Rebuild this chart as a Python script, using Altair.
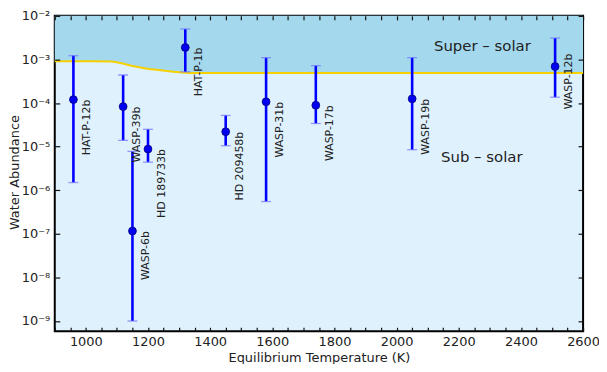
import altair as alt
import pandas as pd

# ---- data ----
names = ["HAT-P-12b", "WASP-39b", "WASP-6b", "HD 189733b", "HAT-P-1b",
         "HD 209458b", "WASP-31b", "WASP-17b", "WASP-19b", "WASP-12b"]
temps = [960, 1120, 1150, 1200, 1320, 1450, 1580, 1740, 2050, 2510]
water = [1.2e-4, 8.3e-5, 1.16e-7, 8.8e-6, 1.88e-3, 2.2e-5, 1.07e-4, 8.9e-5, 1.25e-4, 6.9e-4]
upper = [1.22e-3, 4.4e-4, 7.8e-6, 2.5e-5, 5.0e-3, 5.2e-5, 1.1e-3, 7.2e-4, 1.1e-3, 3.1e-3]
lower = [1.5e-6, 1.4e-5, 1.0e-9, 4.4e-6, 5.2e-4, 1.05e-5, 5.5e-7, 3.4e-5, 8.5e-6, 1.36e-4]

solar_T = [900, 1000, 1080, 1150, 1200, 1260, 1310, 1365, 2600]
solar_W = [9.1e-4, 9.1e-4, 9.0e-4, 7.1e-4, 6.1e-4, 5.45e-4, 5.05e-4, 4.9e-4, 4.9e-4]

x_label_ticks = [1000, 1200, 1400, 1600, 1800, 2000, 2200, 2400, 2600]
x_minor_ticks = [900, 950, 1000, 1050, 1100, 1150, 1200, 1250, 1300, 1350, 1400,
                 1450, 1500, 1550, 1600, 1650, 1700, 1750, 1800, 1850, 1900, 1950,
                 2000, 2050, 2100, 2150, 2200, 2250, 2300, 2350, 2400, 2450, 2500,
                 2550, 2600]
y_ticks = [1e-9, 1e-8, 1e-7, 1e-6, 1e-5, 1e-4, 1e-3, 1e-2]

regions = ["Super \u2013 solar", "Sub \u2013 solar"]
region_T = [2276, 2274]
region_W = [2.0e-3, 5.8e-6]

SUPER = "#a3d8ed"
SUB = "#dff1fd"
GOLD = "#f7d000"
BLUE = "#0000ff"
FONT = "DejaVu Sans"

df = pd.DataFrame({"name": names, "T": temps, "W": water, "hi": upper, "lo": lower})
solar = pd.DataFrame({"T": solar_T, "W": solar_W})
reg = pd.DataFrame({"label": regions, "T": region_T, "W": region_W})

W_PLOT, H_PLOT = 531, 317

xs = alt.Scale(domain=[900, 2600], nice=False, zero=False)
ys = alt.Scale(type="log", domain=[5.82e-10, 1e-2], nice=False)

label_expr = ("'10\u207b' + substring('\u2070\u00b9\u00b2\u00b3\u2074\u2075\u2076\u2077\u2078\u2079', "
              "round(-log(datum.value)/LN10), round(-log(datum.value)/LN10)+1)")

area = alt.Chart(solar).mark_area(color=SUPER, interpolate="monotone").encode(
    x=alt.X("T:Q", scale=xs, axis=alt.Axis(
        orient="bottom", values=x_label_ticks, format="d", ticks=False, domain=False,
        grid=False, labelFontSize=13, labelPadding=4, labelFlush=False,
        title="Equilibrium Temperature (K)", titleFontSize=13,
        titleFontWeight="normal", titlePadding=3)),
    y=alt.Y("W:Q", scale=ys, axis=alt.Axis(
        orient="left", values=y_ticks, labelExpr=label_expr, ticks=False,
        domain=False, grid=False, labelFontSize=13, labelPadding=5,
        title="Water Abundance", titleFontSize=13, titleFontWeight="normal",
        titleAngle=270, titleAlign="center", titleBaseline="middle",
        titleX=-40, titleY=157)),
    y2=alt.datum(1e-2),
)

line = alt.Chart(solar).mark_line(color=GOLD, strokeWidth=2, interpolate="monotone").encode(
    x=alt.X("T:Q", scale=xs, axis=alt.Axis(
        orient="top", offset=-H_PLOT, values=x_minor_ticks, labels=False, domain=False,
        grid=False, tickSize=4, tickWidth=1.2, tickColor="#111", title=None, zindex=1)),
    y=alt.Y("W:Q", scale=ys, axis=alt.Axis(
        orient="right", offset=-W_PLOT, values=y_ticks, labels=False, domain=False,
        grid=False, tickSize=5, tickWidth=1.2, tickColor="#111", title=None, zindex=1)),
)

bars = alt.Chart(df).mark_rule(color=BLUE, strokeWidth=2.6).encode(
    x=alt.X("T:Q", scale=xs, axis=alt.Axis(
        orient="bottom", offset=-H_PLOT, values=x_minor_ticks, labels=False, domain=False,
        grid=False, tickSize=4, tickWidth=1.2, tickColor="#111", title=None, zindex=1)),
    y=alt.Y("lo:Q", scale=ys, axis=alt.Axis(
        orient="left", offset=-W_PLOT, values=y_ticks, labels=False, domain=False,
        grid=False, tickSize=5, tickWidth=1.2, tickColor="#111", title=None, zindex=1)),
    y2="hi:Q",
)

cap_lo = alt.Chart(df).mark_tick(orient="horizontal", size=10, thickness=1.3, color="#7070ff").encode(
    x=alt.X("T:Q", scale=xs, axis=None),
    y=alt.Y("lo:Q", scale=ys, axis=None),
)
cap_hi = alt.Chart(df).mark_tick(orient="horizontal", size=10, thickness=1.3, color="#7070ff").encode(
    x=alt.X("T:Q", scale=xs, axis=None),
    y=alt.Y("hi:Q", scale=ys, axis=None),
)

points = alt.Chart(df).mark_circle(size=62, color="#0000f0", opacity=1,
                                   stroke="#00007a", strokeWidth=0.8).encode(
    x=alt.X("T:Q", scale=xs, axis=None),
    y=alt.Y("W:Q", scale=ys, axis=None),
)

labels = alt.Chart(df).transform_filter("datum.name != 'WASP-12b'").mark_text(
    angle=270, align="right", baseline="top", fontSize=11, font=FONT,
    color="#222", xOffset=8).encode(
    x=alt.X("T:Q", scale=xs, axis=None),
    y=alt.Y("W:Q", scale=ys, axis=None),
    text="name:N",
)
label12 = alt.Chart(df).transform_filter("datum.name == 'WASP-12b'").mark_text(
    angle=270, align="right", baseline="top", fontSize=11, font=FONT,
    color="#222", xOffset=8, yOffset=-13).encode(
    x=alt.X("T:Q", scale=xs, axis=None),
    y=alt.Y("W:Q", scale=ys, axis=None),
    text="name:N",
)

region_text = alt.Chart(reg).mark_text(
    fontSize=15, font=FONT, color="#222", align="center", baseline="middle").encode(
    x=alt.X("T:Q", scale=xs, axis=None),
    y=alt.Y("W:Q", scale=ys, axis=None),
    text="label:N",
)

chart = alt.layer(area, line, bars, cap_lo, cap_hi, points, labels, label12, region_text).resolve_axis(
    x="independent", y="independent"
).properties(
    width=W_PLOT, height=H_PLOT,
    autosize=alt.AutoSizeParams(type="none"),
    padding={"left": 47, "top": 7, "right": 16, "bottom": 32},
).configure_view(
    fill=SUB, stroke="black", strokeWidth=2
).configure_axis(
    labelFont=FONT, titleFont=FONT, labelColor="#222", titleColor="#222"
)

chart.save("out.html", embed_options={"renderer": "svg", "actions": False})
